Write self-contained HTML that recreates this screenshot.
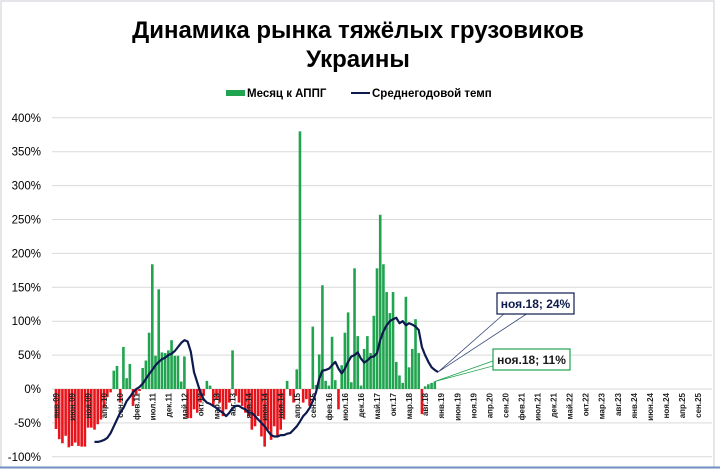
<!DOCTYPE html>
<html><head><meta charset="utf-8"><style>
body{margin:0;background:#fff;}
svg{display:block;font-family:"Liberation Sans","DejaVu Sans",sans-serif;}
</style></head><body>
<svg id="chart" width="720" height="470" viewBox="0 0 720 470" xmlns="http://www.w3.org/2000/svg">
<rect x="1" y="1" width="713" height="466" fill="#fff" stroke="#c8cdd6" stroke-width="1"/>
<line x1="0" y1="467.5" x2="720" y2="467.5" stroke="#6f8fbf" stroke-width="2"/>
<text x="358" y="38" text-anchor="middle" font-size="24" font-weight="bold" fill="#000">Динамика рынка тяжёлых грузовиков</text>
<text x="358" y="67" text-anchor="middle" font-size="24" font-weight="bold" fill="#000">Украины</text>
<g>
<rect x="226" y="90" width="19" height="6" fill="#21a44f"/>
<text x="247" y="97" font-size="11.5" font-weight="bold" fill="#000">Месяц к АППГ</text>
<line x1="351" y1="93" x2="370" y2="93" stroke="#0d1a4d" stroke-width="2"/>
<text x="372" y="97" font-size="11.5" font-weight="bold" fill="#000">Среднегодовой темп</text>
</g>
<g id="grid"></g>
<g id="ylabels"></g>
<g id="bars"></g>
<g id="xlabels"></g>
<path id="avgline" fill="none" stroke="#0d1a4d" stroke-width="2.2" stroke-linejoin="round"/>
<g id="callouts"></g>
</svg>
<script>
const monthly = [-59,-74,-80,-69,-86,-84,-79,-84,-85,-85,-57,-57,-60,-52,-45,-27,-12,-5,
27,34,-20,62,16,37,-25,-8,-3,31,42,83,184,49,147,54,53,57,72,49,49,11,48,
-43,-43,-30,-35,-20,-10,12,5,-25,-15,-20,-40,-30,-20,57,-10,-20,-25,-35,-40,-60,-55,-40,-70,-85,-60,-75,-55,-70,-60,-45,12,-10,-20,29,380,
-20,-15,-25,92,6,51,153,12,5,77,13,-30,35,83,113,10,178,78,5,59,78,53,108,178,257,184,143,112,143,40,20,9,136,32,59,103,53,-37,4,7,9,11];
const avgStart = 12;
const avgValues = [-78,-78,-77,-75,-72,-65,-55,-45,-35,-28,-18,-12,-5,0,3,8,15,22,28,35,40,44,46,50,52,56,62,68,72,70,55,25,10,-5,-15,-20,-22,-25,-28,-32,-35,-40,-35,-28,-25,-25,-28,-30,-35,-35,-40,-45,-50,-55,-62,-68,-70,-70,-68,-68,-66,-65,-60,-55,-48,-40,-35,-28,-18,-5,15,27,28,30,35,40,30,23,30,40,48,50,54,45,39,42,47,48,53,72,85,94,100,103,105,97,100,94,97,95,92,87,62,50,40,32,28,25];
const yTicks = [400,350,300,250,200,150,100,50,0,-50,-100];
const monthNames = ["янв","фев","мар","апр","май","июн","июл","авг","сен","окт","ноя","дек"];
const totalMonths = 204;
const calloutAvg = "ноя.18; 24%";
const calloutMonth = "ноя.18; 11%";

const NS="http://www.w3.org/2000/svg";
const X0=56, DX=3.21, Y0=389, KY=0.678, PL=52, PR=712;
function xs(i){return X0+DX*i;}
function ys(v){return Y0-v*KY;}
function mk(tag,attrs,parent){const e=document.createElementNS(NS,tag);for(const k in attrs)e.setAttribute(k,attrs[k]);parent.appendChild(e);return e;}

const grid=document.getElementById('grid'), yl=document.getElementById('ylabels');
yTicks.forEach(t=>{
  const l=mk('line',{x1:PL,x2:PR,y1:ys(t),y2:ys(t),stroke:'#d9d9d9','stroke-width':1},grid);
  
  
  const tx=mk('text',{x:41,y:ys(t)+4,'text-anchor':'end','font-size':11.5,fill:'#000'},yl);
  
  
  tx.textContent=t+'%';
});
const bars=document.getElementById('bars');
monthly.forEach((v,i)=>{
  const y=v>=0?ys(v):Y0, h=Math.abs(v)*KY;
  const r=mk('rect',{x:xs(i)-1.3,y:y,width:2.6,height:Math.max(h,0.5),fill:v>=0?'#21a44f':'#e8141b'},bars);
  
  
});
const xl=document.getElementById('xlabels');
for(let i=0;i<totalMonths;i+=5){
  const yr=9+Math.floor(i/12);
  const lab=monthNames[i%12]+'.'+(yr<10?'0'+yr:yr);
  const x=xs(i)+3, y=393;
  const t=mk('text',{x:x,y:y,'text-anchor':'end','font-size':8,'font-weight':'bold',fill:'#222',transform:`rotate(-90 ${x} ${y})`},xl);
  
  
  t.textContent=lab;
}
let d='';
avgValues.forEach((v,k)=>{d+=(k?'L':'M')+xs(avgStart+k).toFixed(1)+' '+ys(v).toFixed(1);});
document.getElementById('avgline').setAttribute('d',d);

const co=document.getElementById('callouts');
const lastI=monthly.length-1;
const pA=[xs(avgStart+avgValues.length-1),ys(avgValues[avgValues.length-1])];
const pM=[xs(lastI),ys(monthly[lastI])];
const w1=mk('polygon',{points:`505,313 528,313 ${pA[0]},${pA[1]}`,fill:'#fff',stroke:'#3a4a7a','stroke-width':0.8},co);


const b1=mk('rect',{x:497,y:293,width:77,height:21,fill:'#fff',stroke:'#0d1a4d','stroke-width':1.2},co);


const t1=mk('text',{x:535.5,y:308,'text-anchor':'middle','font-size':12,'font-weight':'bold',fill:'#0d1a4d'},co);


t1.textContent=calloutAvg;
const w2=mk('polygon',{points:`493,361 493,366 ${pM[0]},${pM[1]}`,fill:'#fff',stroke:'#21a44f','stroke-width':0.8},co);


const b2=mk('rect',{x:493,y:349,width:77,height:21,fill:'#fff',stroke:'#21a44f','stroke-width':1.2},co);


const t2=mk('text',{x:531.5,y:364,'text-anchor':'middle','font-size':12,'font-weight':'bold',fill:'#1a1a1a'},co);


t2.textContent=calloutMonth;
</script>
</body></html>
